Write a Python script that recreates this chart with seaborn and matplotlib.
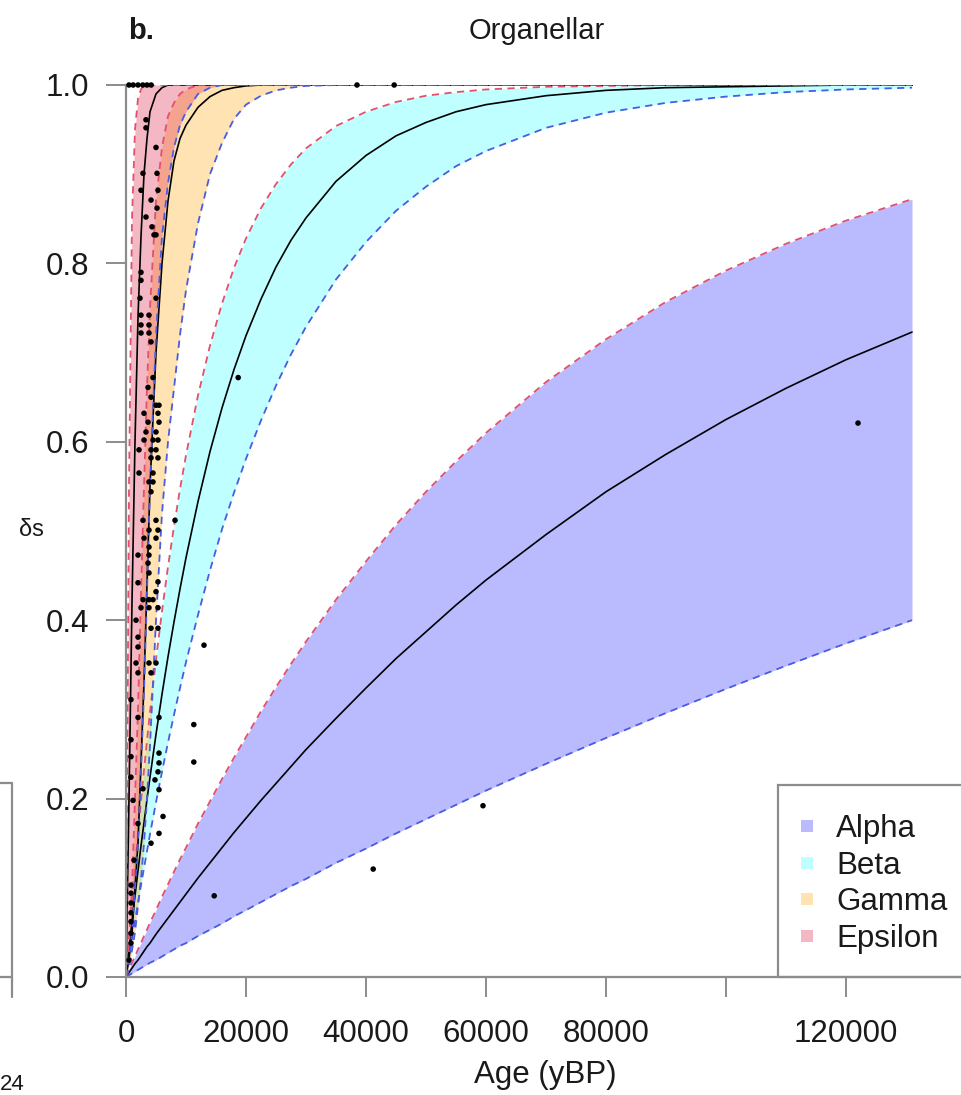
import numpy as np
import pandas as pd
import matplotlib
matplotlib.use("Agg")
import matplotlib.pyplot as plt
import seaborn as sns
from matplotlib.lines import Line2D
from matplotlib.patches import Rectangle

sns.set_style("ticks")
plt.rcParams['font.family'] = ['Liberation Sans', 'DejaVu Sans']

# ---------------- data ----------------
age_grid = [0, 500, 1000, 1500, 2000, 2500, 3000, 3500, 4000, 5000, 6000, 7000, 8000, 9000,
            10000, 12000, 14000, 16000, 18000, 20000, 22500, 25000, 27500, 30000, 35000,
            40000, 45000, 50000, 55000, 60000, 70000, 80000, 90000, 100000, 110000, 120000, 131000]

alpha_lo = [0, .002, .004, .006, .008, .010, .012, .014, .016, .019, .023, .027, .031, .035,
            .038, .046, .053, .060, .068, .075, .084, .093, .102, .110, .128,
            .144, .161, .177, .193, .209, .239, .268, .296, .323, .349, .374, .400]
alpha_mid = [0, .005, .010, .015, .019, .024, .029, .034, .038, .048, .057, .066, .075, .084,
             .093, .111, .128, .145, .162, .178, .198, .217, .236, .255, .290,
             .324, .357, .387, .417, .445, .496, .544, .586, .625, .660, .692, .723]
alpha_hi = [0, .008, .016, .023, .031, .038, .046, .053, .061, .075, .090, .104, .118, .132,
            .145, .172, .197, .222, .246, .269, .298, .325, .351, .376, .423,
            .466, .507, .544, .578, .610, .667, .715, .757, .792, .822, .848, .872]

beta_lo = [0, .022, .043, .063, .083, .103, .122, .141, .160, .196, .230, .263, .294, .324,
           .353, .406, .456, .502, .543, .581, .624, .663, .698, .729, .782,
           .824, .859, .886, .909, .926, .952, .969, .980, .987, .992, .995, .997]
beta_mid = [0, .031, .062, .091, .119, .147, .173, .199, .224, .272, .317, .359, .398, .435,
            .470, .533, .589, .638, .681, .719, .760, .796, .826, .851, .892,
            .921, .943, .958, .970, .978, .988, .994, .997, .998, .999, 1.0, 1.0]
beta_hi = [0, .043, .084, .124, .161, .197, .232, .265, .297, .356, .410, .460, .505, .547,
           .585, .652, .708, .755, .795, .828, .862, .889, .911, .929, .954,
           .970, .981, .988, .992, .995, .998, .999, 1.0, 1.0, 1.0, 1.0, 1.0]

gamma_lo = [0, .01, .03, .05, .08, .11, .15, .20, .26, .40, .52, .60, .66, .72,
            .77, .845, .90, .935, .962, .978, .988, .994, .997, .999, 1.0,
            1.0, 1.0, 1.0, 1.0, 1.0, 1.0, 1.0, 1.0, 1.0, 1.0, 1.0, 1.0]
gamma_mid = [0, .02, .05, .10, .15, .24, .33, .44, .55, .70, .80, .87, .915, .94,
             .955, .975, .987, .994, .997, .999, 1.0, 1.0, 1.0, 1.0, 1.0,
             1.0, 1.0, 1.0, 1.0, 1.0, 1.0, 1.0, 1.0, 1.0, 1.0, 1.0, 1.0]
gamma_hi = [0, .04, .10, .20, .30, .43, .55, .66, .75, .87, .93, .965, .98, .99,
            .995, 1.0, 1.0, 1.0, 1.0, 1.0, 1.0, 1.0, 1.0, 1.0, 1.0,
            1.0, 1.0, 1.0, 1.0, 1.0, 1.0, 1.0, 1.0, 1.0, 1.0, 1.0, 1.0]

epsilon_lo = [0, .02, .05, .10, .15, .23, .32, .43, .55, .72, .83, .89, .93, .955,
              .97, .99, .997, 1.0, 1.0, 1.0, 1.0, 1.0, 1.0, 1.0, 1.0,
              1.0, 1.0, 1.0, 1.0, 1.0, 1.0, 1.0, 1.0, 1.0, 1.0, 1.0, 1.0]
epsilon_mid = [0, .20, .42, .60, .74, .83, .90, .94, .97, .99, .997, 1.0, 1.0, 1.0,
               1.0, 1.0, 1.0, 1.0, 1.0, 1.0, 1.0, 1.0, 1.0, 1.0, 1.0,
               1.0, 1.0, 1.0, 1.0, 1.0, 1.0, 1.0, 1.0, 1.0, 1.0, 1.0, 1.0]
epsilon_hi = [0, .55, .85, .95, .985, .995, 1.0, 1.0, 1.0, 1.0, 1.0, 1.0, 1.0, 1.0,
              1.0, 1.0, 1.0, 1.0, 1.0, 1.0, 1.0, 1.0, 1.0, 1.0, 1.0,
              1.0, 1.0, 1.0, 1.0, 1.0, 1.0, 1.0, 1.0, 1.0, 1.0, 1.0, 1.0]

band_names = ["Alpha", "Beta", "Gamma", "Epsilon"]
band_colors = ["blue", "cyan", "orange", "crimson"]
band_alphas = [0.27, 0.25, 0.30, 0.30]

dot_age = [3330, 3330, 5000, 2830, 5170, 2500, 5330, 4170, 5170, 3330, 4330, 4670, 5000, 2500, 2500,
           2330, 5000, 2500, 3830, 2500, 3830, 2500, 3830, 4170, 4500, 3670, 4170, 5000, 5500, 3000,
           5330, 3670, 5500, 3330, 5000, 3000, 4500, 5330, 2170, 4170, 5000, 4170, 5330, 2170, 4500,
           3830, 4500, 4170, 2830, 5000, 8170, 3830, 5330, 3000, 5000, 3830, 2000, 3830, 3670, 3830,
           5330, 2000, 5000, 2830, 3830, 4500, 2500, 3830, 5330, 1670, 4170, 5330, 2000, 2000, 1670,
           3830, 5000, 2000, 4170, 5500, 2000, 5500, 5500, 5330, 4830, 2830, 5500, 6170, 2000, 5500,
           4170, 830, 830, 830, 830, 830, 830, 830, 830, 830, 830, 830, 1170, 1330, 500,
           500, 1200, 2000, 2800, 3500, 4200, 38500, 44700,
           18700, 13000, 11300, 11300, 14700, 41200, 59500, 122000]
dot_ds = [0.961, 0.952, 0.930, 0.901, 0.901, 0.882, 0.882, 0.871, 0.862, 0.852, 0.841, 0.832, 0.832, 0.790, 0.781,
          0.761, 0.761, 0.742, 0.742, 0.731, 0.731, 0.722, 0.722, 0.712, 0.672, 0.661, 0.650, 0.641, 0.641, 0.632,
          0.632, 0.622, 0.622, 0.611, 0.611, 0.602, 0.602, 0.602, 0.591, 0.591, 0.591, 0.582, 0.582, 0.565, 0.565,
          0.555, 0.555, 0.544, 0.512, 0.512, 0.512, 0.501, 0.501, 0.492, 0.492, 0.482, 0.473, 0.473, 0.464, 0.453,
          0.443, 0.442, 0.432, 0.423, 0.423, 0.423, 0.414, 0.414, 0.414, 0.400, 0.391, 0.391, 0.381, 0.370, 0.352,
          0.352, 0.352, 0.341, 0.341, 0.291, 0.291, 0.251, 0.240, 0.230, 0.221, 0.211, 0.210, 0.180, 0.172, 0.161,
          0.150, 0.103, 0.094, 0.083, 0.072, 0.062, 0.049, 0.038, 0.247, 0.224, 0.311, 0.266, 0.198, 0.131, 0.019,
          1.0, 1.0, 1.0, 1.0, 1.0, 1.0, 1.0, 1.0,
          0.672, 0.372, 0.283, 0.241, 0.091, 0.121, 0.192, 0.621]

x_ticks = [0, 20000, 40000, 60000, 80000, 100000, 120000, 140000]
x_tick_labels = ["0", "20000", "40000", "60000", "80000", "", "120000", ""]
y_ticks = [0.0, 0.2, 0.4, 0.6, 0.8, 1.0]
y_tick_labels = ["0.0", "0.2", "0.4", "0.6", "0.8", "1.0"]

# ---------------- figure ----------------
W, H = 961, 1095
fig = plt.figure(figsize=(W / 100, H / 100), dpi=100)
ax = fig.add_axes([126 / W, (H - 977) / H, 840 / W, 892 / H])

RED = "#e2506c"
BLUE = "#4a5ce2"
GRAY = "#8c8c8c"

bands = [
    (alpha_lo, alpha_mid, alpha_hi),
    (beta_lo, beta_mid, beta_hi),
    (gamma_lo, gamma_mid, gamma_hi),
    (epsilon_lo, epsilon_mid, epsilon_hi),
]

for (lo, mid, hi), col, a in zip(bands, band_colors, band_alphas):
    sns.lineplot(x=age_grid, y=mid, ax=ax, color="black", lw=1.2,
                 estimator=None, sort=False, legend=False)
    sns.lineplot(x=age_grid, y=hi, ax=ax, color=RED, lw=1.3, linestyle=(0, (4, 3)),
                 estimator=None, sort=False, legend=False)
    sns.lineplot(x=age_grid, y=lo, ax=ax, color=BLUE, lw=1.3, linestyle=(0, (4, 3)),
                 estimator=None, sort=False, legend=False)
    ax.fill_between(age_grid, lo, hi, color=col, alpha=a, lw=0)

sns.scatterplot(x=dot_age, y=dot_ds, ax=ax, color="black", s=16, edgecolor="none",
                zorder=10, clip_on=False, legend=False)

ax.set_xlim(0, 140000)
ax.set_ylim(0, 1)
ax.spines[["top", "right"]].set_visible(False)
for s in ["left", "bottom"]:
    ax.spines[s].set_color(GRAY)
    ax.spines[s].set_linewidth(1.6)
ax.set_xticks(x_ticks)
ax.set_xticklabels(x_tick_labels)
ax.set_yticks(y_ticks)
ax.set_yticklabels(y_tick_labels)
ax.tick_params(axis="both", color=GRAY, width=1.4, length=14.5, labelsize=22.5,
               labelcolor="#1a1a1a")
ax.tick_params(axis="y", pad=12)
ax.tick_params(axis="x", pad=16)
ax.set_xlabel("")
ax.set_ylabel("")

# texts
fig.text(545 / W, 1 - 1075 / H, "Age (yBP)", ha="center", va="center", fontsize=22.5, color="#1a1a1a")
fig.text(31 / W, 1 - 530 / H, "δs", ha="center", va="center", fontsize=17, color="#1a1a1a")
fig.text(537 / W, 1 - 31 / H, "Organellar", ha="center", va="center", fontsize=21, color="#1a1a1a")
fig.text(128 / W, 1 - 31 / H, "b.", ha="left", va="center", fontsize=21, fontweight="bold", color="#1a1a1a")
fig.text(0 / W, 1 - 1084 / H, "24", ha="left", va="center", fontsize=16, color="#1a1a1a")

# legend
handles = [Line2D([], [], marker="s", ls="", markersize=8.5, markeredgewidth=0,
                  color=matplotlib.colors.to_rgba(c, a))
           for c, a in zip(band_colors, band_alphas)]
fig.legend(handles, band_names, loc="upper left", bbox_to_anchor=(794.5 / W, 1 - 814 / H),
           frameon=False, fontsize=22.5, borderpad=0, borderaxespad=0, labelspacing=0.21,
           handlelength=0.8, handletextpad=0.53, labelcolor="#1a1a1a")
fig.add_artist(Rectangle((778 / W, (H - 977) / H), 0.3, 192 / H, transform=fig.transFigure,
                         facecolor="none", edgecolor=GRAY, lw=1.6, clip_on=False))

# remnant of neighbouring panel at the left edge
for xs, ys in [([11.5, 11.5], [783, 997]), ([0, 11.5], [783, 783]), ([0, 11.5], [977, 977])]:
    fig.add_artist(Line2D([x / W for x in xs], [1 - y / H for y in ys], transform=fig.transFigure,
                          color=GRAY, lw=1.6))

fig.savefig("out.png", dpi=100)
